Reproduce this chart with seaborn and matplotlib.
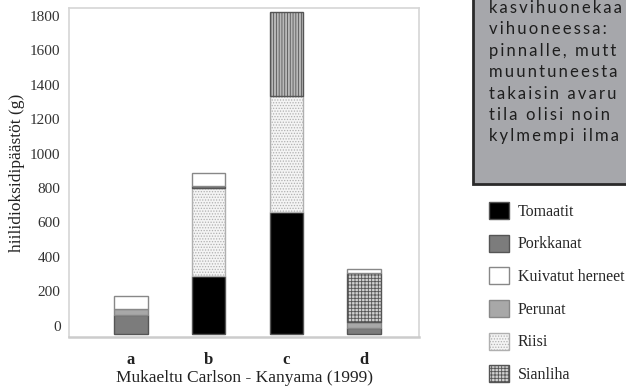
import matplotlib
matplotlib.use("Agg")
import matplotlib.pyplot as plt
from matplotlib.patches import Patch, Rectangle
import seaborn as sns
import pandas as pd
import numpy as np

# ---- data ----
bars = ["a", "b", "c", "d"]
foods = ["Tomaatit", "Riisi", "Porkkanat", "Perunat", "Sianliha", "Kuivatut herneet"]
tomaatit = [0, 336, 707, 0]
riisi = [0, 512, 676, 0]
porkkanat = [110, 10, 0, 35]
perunat = [35, 0, 0, 35]
sianliha = [0, 0, 489, 283]
kuivatut_herneet = [76, 76, 0, 23]
baseline = -48
legend_order = ["Tomaatit", "Porkkanat", "Kuivatut herneet", "Perunat", "Riisi", "Sianliha"]
yticks = [0, 200, 400, 600, 800, 1000, 1200, 1400, 1600, 1800]
box_lines = ["kasvihuonekaa", "vihuoneessa:", "pinnalle, mutt", "muuntuneesta",
             "takaisin avaru", "tila olisi noin", "kylmempi ilma"]

values = {"Tomaatit": tomaatit, "Riisi": riisi, "Porkkanat": porkkanat,
          "Perunat": perunat, "Sianliha": sianliha, "Kuivatut herneet": kuivatut_herneet}

styles = {
    "Tomaatit": dict(color="#000000", edgecolor="#555555", hatch=None),
    "Porkkanat": dict(color="#7c7c7c", edgecolor="#555555", hatch=None),
    "Kuivatut herneet": dict(color="#ffffff", edgecolor="#888888", hatch=None),
    "Perunat": dict(color="#a8a8a8", edgecolor="#888888", hatch=None),
    "Riisi": dict(color="#f4f4f4", edgecolor="#b0b0b0", hatch="......"),
    "Sianliha": dict(color="#d0d0d0", edgecolor="#555555", hatch="+++++"),
}

serif = ["Liberation Serif", "DejaVu Serif"]
sns.set_theme(style="white")
plt.rcParams["font.family"] = serif
plt.rcParams["hatch.linewidth"] = 0.6

fig = plt.figure(figsize=(6.26, 3.92), dpi=100)
ax = fig.add_axes([69 / 626, 1 - 337 / 392, 350 / 626, 329 / 392])

bottoms = np.full(len(bars), float(baseline))
for food in foods:
    vals = np.array(values[food], dtype=float)
    mask = vals > 0
    df = pd.DataFrame({"bar": np.array(bars)[mask], "val": vals[mask]})
    st = styles[food]
    if len(df):
        sns.barplot(data=df, x="bar", y="val", order=bars, ax=ax, width=0.43,
                    color=st["color"], edgecolor=st["edgecolor"], linewidth=1.0,
                    hatch=st["hatch"], bottom=bottoms[mask], saturation=1,
                    errorbar=None)
    bottoms = bottoms + vals

# vertical-stripe look of the top segment of bar c
for p in ax.patches:
    if p.get_hatch() == "+++++" and p.get_height() > 400:
        p.set_hatch("||||||")
        p.set_facecolor("#b8b8b8")
        p.set_edgecolor("#555555")

ax.set_xlim(-0.8, 3.71)
ax.set_ylim(-66, 1847)
ax.set_yticks(yticks)
ax.set_yticklabels([str(v) for v in yticks], fontsize=11, color="#333333")
ax.set_xticks(range(len(bars)))
ax.set_xticklabels(bars, fontsize=12, fontweight="bold", color="#222222")
ax.tick_params(axis="x", pad=11, length=0)
ax.tick_params(axis="y", pad=6, length=0)
ax.set_xlabel("Mukaeltu Carlson - Kanyama (1999)", fontsize=12.5, color="#222222", labelpad=1)
ax.set_ylabel("hiilidioksidipäästöt (g)", fontsize=12.5, color="#222222", labelpad=4)
for s in ax.spines.values():
    s.set_color("#d6d6d6")
    s.set_linewidth(1.2)
ax.spines["bottom"].set_linewidth(1.8)
ax.spines["bottom"].set_color("#cccccc")

# legend
handles = []
for food in legend_order:
    st = styles[food]
    handles.append(Patch(facecolor=st["color"], edgecolor=st["edgecolor"],
                         hatch=st["hatch"], label=food, linewidth=1.0))
fig.legend(handles=handles, loc="upper left", bbox_to_anchor=(489 / 626, 1 - 202 / 392),
           frameon=False, handlelength=1.25, handleheight=1.25,
           labelspacing=0.93, handletextpad=0.56, borderpad=0, borderaxespad=0,
           prop={"family": serif, "size": 11.5})

# grey text box (cropped at figure edge)
fig.patches.append(Rectangle((473 / 626, 1 - 184 / 392), 0.4, 0.6, transform=fig.transFigure,
                             facecolor="#a6a7ab", edgecolor="#2a2a2a", linewidth=2, zorder=0))
ts = "\u2009"
for i, line in enumerate(box_lines):
    spaced = ts.join(line)
    fig.text(489 / 626, 1 - (13 + 21.4 * i) / 392, spaced, fontsize=12,
             family=["Lato", "DejaVu Sans"], color="#1e1e1e", va="baseline", ha="left")

fig.savefig("out.png", dpi=100)
